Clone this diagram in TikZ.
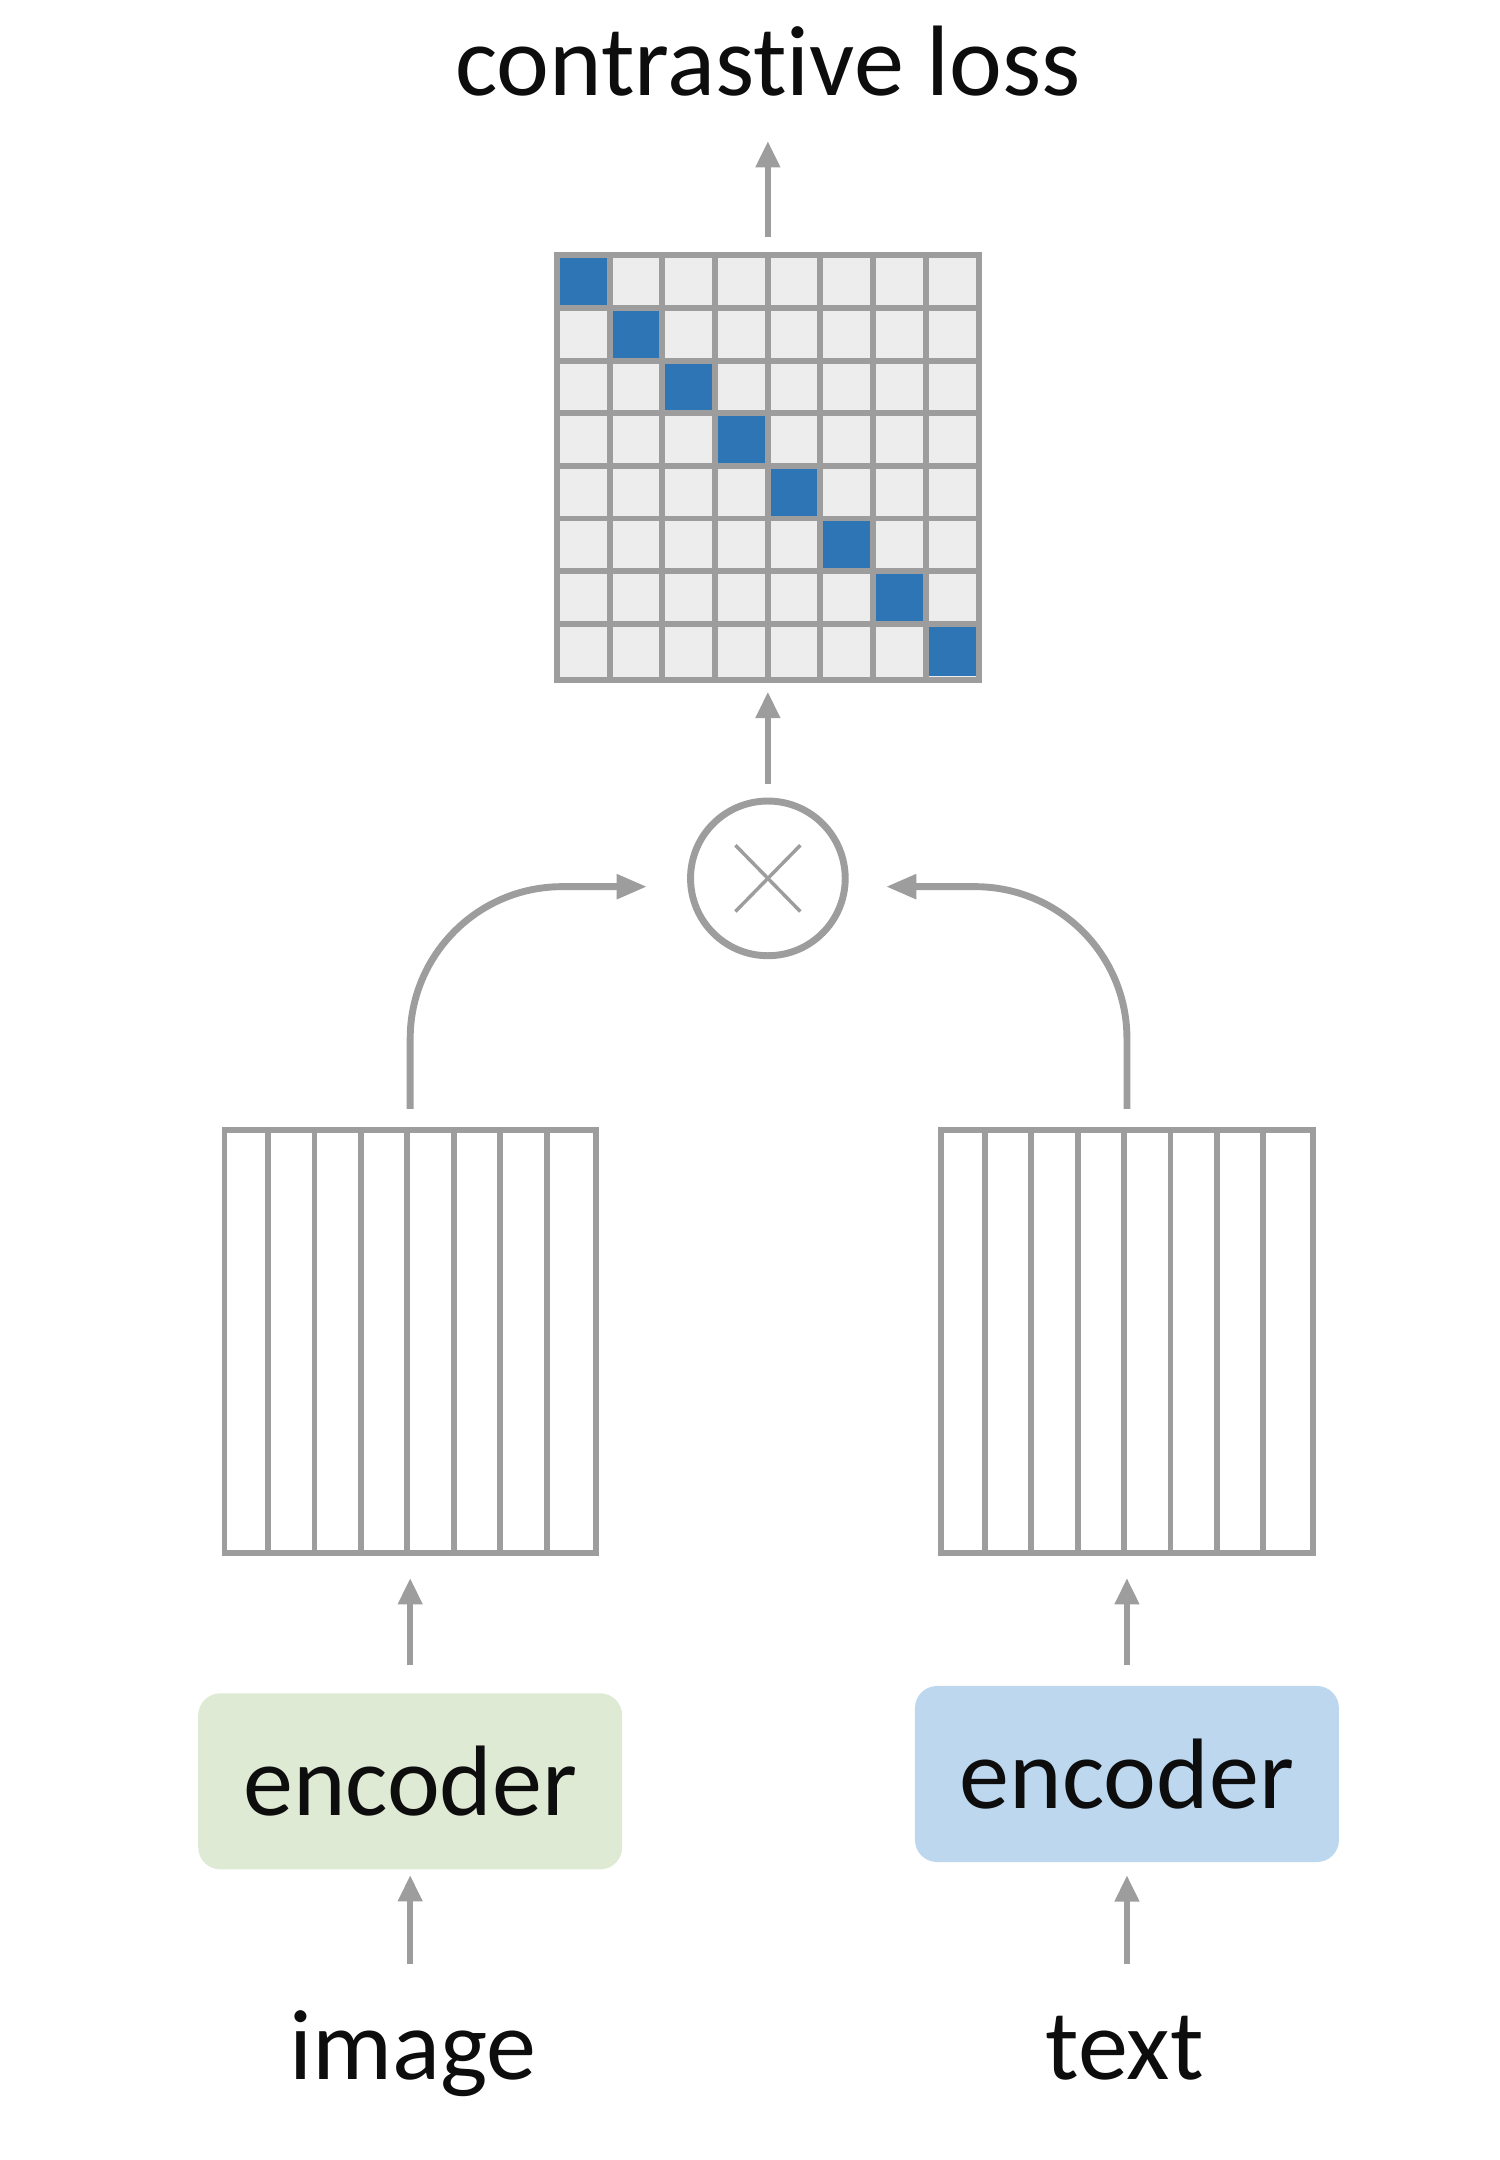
\documentclass[tikz,border=0pt]{standalone}
\usepackage{fontspec}
\setmainfont{Carlito}[Ligatures=NoCommon]
\usepackage{tikz}
\usetikzlibrary{arrows.meta,calc}

\definecolor{linegray}{HTML}{9D9D9D}
\definecolor{cellgray}{HTML}{EDEDED}
\definecolor{diagblue}{HTML}{2E75B6}
\definecolor{encgreen}{HTML}{DFEAD5}
\definecolor{encblue}{HTML}{BDD7EE}
\definecolor{inktext}{HTML}{0D0D0D}

\begin{document}
\begin{tikzpicture}[
    x=1pt,
    y=-1pt,
    every node/.style={
      text=inktext,
    },
    lbl/.style={
      inner sep=0,
      anchor=base,
      font=\fontsize{72.5}{80}\selectfont,
      text height=50pt,
      text depth=16pt,
    },
    arr/.style={
      line width=4.3pt,
      color=linegray,
      -{Triangle[length=19pt,width=17pt]},
    },
    curvearr/.style={
      arr,
      line width=5pt,
      rounded corners=110pt,
      -{Triangle[length=22pt,width=17pt]},
    },
    gridline/.style={
      line width=4.3pt,
      color=linegray,
    },
    simbox/.style={
      fill=cellgray,
      inner sep=0,
      minimum width=305pt,
      minimum height=307pt,
    },
    vecbox/.style={
      draw=linegray,
      line width=4.2pt,
      fill=white,
      inner sep=0,
      minimum width=269pt,
      minimum height=306.5pt,
    },
    mulnode/.style={
      circle,
      draw=linegray,
      line width=5pt,
      inner sep=0,
      minimum size=112pt,
    },
    crossline/.style={
      line width=2.5pt,
      color=linegray,
    },
    encbox/.style={
      rounded corners=16pt,
      inner sep=0,
      minimum width=307pt,
      minimum height=127.5pt,
      font=\fontsize{72.5}{80}\selectfont,
      text height=50pt,
      text depth=0pt,
    },
  ]
    \newcommand\cellw{38.125}
    \newcommand\barw{33.625}
    \newcommand\vecbars[1]{%
      \foreach \k in {1,...,7}
        \draw[gridline,line width=4.2pt] ($(#1.north west)+(\k*\barw,0)$) -- ($(#1.south west)+(\k*\barw,0)$);
    }

    \useasboundingbox (0,0) rectangle (1086,1564);

    \node[lbl] (loss) at (556,69.5) {contrastive loss};

    % similarity matrix
    \node[simbox] (sim) at (556,338.5) {};
    \foreach \k in {0,...,7}
      \fill[diagblue] ($(sim.north west)+(\k*\cellw,\k*\cellw)$) rectangle +(\cellw,\cellw);
    \foreach \k in {1,...,7}{
      \draw[gridline] ($(sim.north west)+(\k*\cellw,0)$) -- ($(sim.south west)+(\k*\cellw,0)$);
      \draw[gridline] ($(sim.north west)+(0,\k*\cellw)$) -- ($(sim.north east)+(0,\k*\cellw)$);
    }
    \draw[gridline] (sim.north west) rectangle (sim.south east);

    \node[mulnode] (mul) at (556,636) {};
    \draw[crossline] ($(mul.center)+(-23.5,-24)$) -- ($(mul.center)+(23.5,24)$);
    \draw[crossline] ($(mul.center)+(-23.5,24)$) -- ($(mul.center)+(23.5,-24)$);

    \node[vecbox] (imgvec) at (297,971.3) {};
    \node[vecbox] (txtvec) at (816,971.3) {};
    \vecbars{imgvec}
    \vecbars{txtvec}

    \node[encbox,fill=encgreen] (imgenc) at (297,1289.8) {encoder};
    \node[encbox,fill=encblue] (txtenc) at (816,1284.5) {encoder};

    \node[lbl] (image) at (299,1505.8) {image};
    \node[lbl] (text) at (814.5,1505.8) {text};

    \draw[arr,shorten <=33.4pt,shorten >=4pt] (imgenc.south |- image.north) -- (imgenc.south);
    \draw[arr,shorten <=33.4pt,shorten >=9.4pt] (txtenc.south |- text.north) -- (txtenc.south);
    \draw[arr,shorten <=20pt,shorten >=16pt] (imgenc.north) -- (imgvec.south);
    \draw[arr,shorten <=15pt,shorten >=16pt] (txtenc.north) -- (txtvec.south);
    \draw[curvearr,shorten <=13pt,shorten >=29pt] (imgvec.north) |- ([yshift=-6pt]mul.west);
    \draw[curvearr,shorten <=13pt,shorten >=27pt] (txtvec.north) |- ([yshift=-6pt]mul.east);
    \draw[arr,shorten <=10pt,shorten >=8.7pt] (mul.north) -- (sim.south);
    \draw[arr,shorten <=13.5pt,shorten >=16.5pt] (sim.north) -- (loss.south);
\end{tikzpicture}
\end{document}
